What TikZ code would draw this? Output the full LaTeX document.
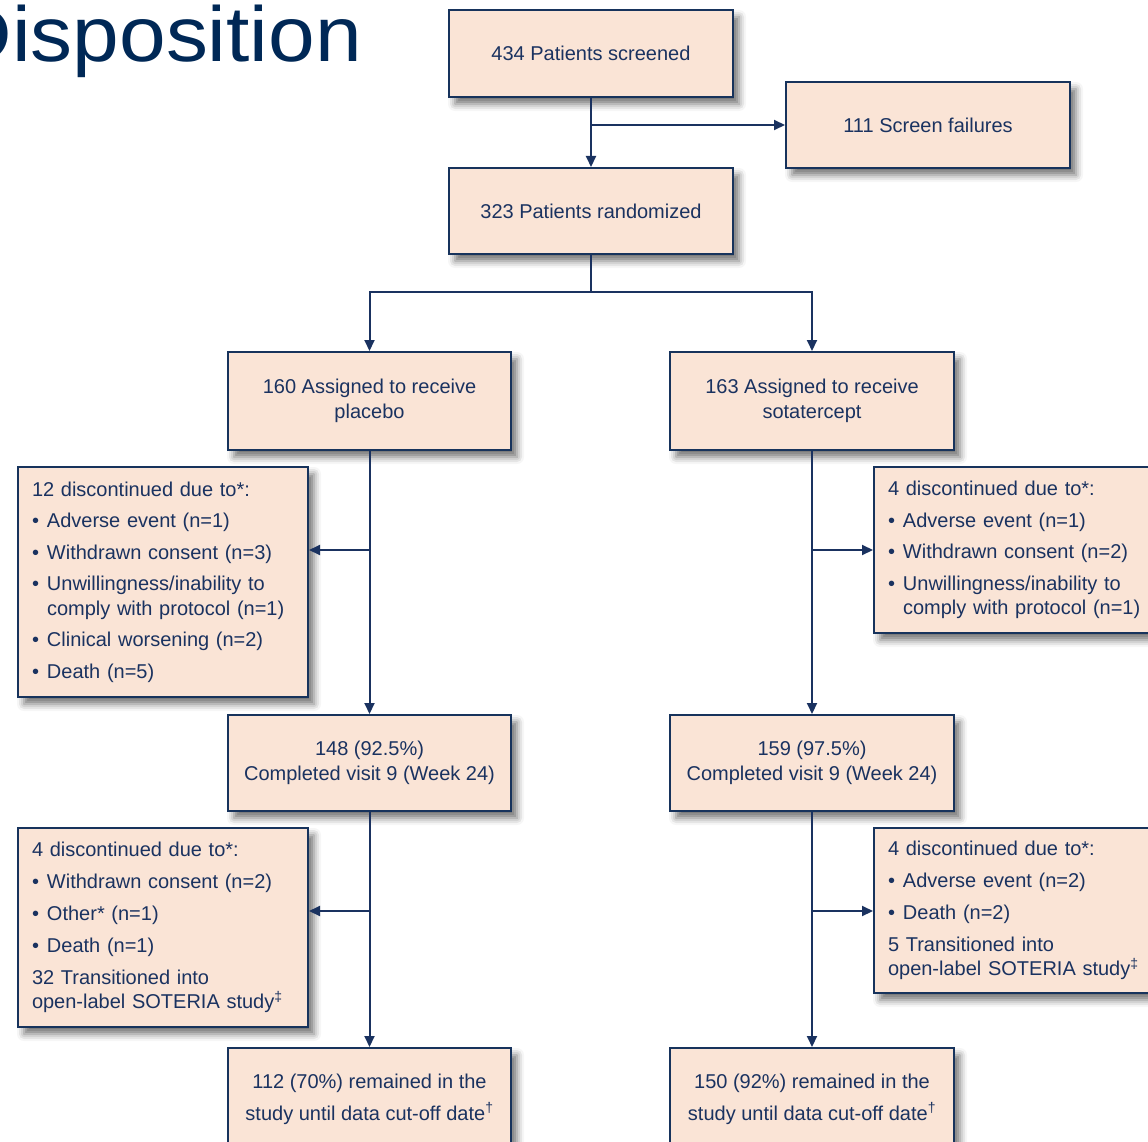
\documentclass[tikz,border=0pt]{standalone}
\usepackage{fontspec}
\setmainfont{Liberation Sans}
\usetikzlibrary{arrows.meta,shadows.blur}
\definecolor{navy}{HTML}{1A3260}
\definecolor{boxline}{HTML}{17335C}
\definecolor{peach}{HTML}{FAE4D6}
\definecolor{titlecol}{HTML}{002856}
\newcommand\bl{\makebox[15pt][l]{•}}
\newcommand\hng{\hspace*{15pt}}
\tikzset{
  box/.style={draw=boxline, line width=2pt, fill=peach, text=navy, align=center,
    inner sep=0pt, font=\fontsize{20}{24.5}\selectfont,
    blur shadow={shadow xshift=6pt, shadow yshift=-7pt, shadow blur radius=7pt, shadow opacity=55}},
  sidebox/.style={box, align=left, text width=262pt, minimum width=290pt},
  conn/.style={draw=navy, line width=2pt, -{Triangle[length=11pt,width=10pt]}},
  plain/.style={draw=navy, line width=2pt},
}
\begin{document}
\begin{tikzpicture}[x=1pt,y=-1pt]
\useasboundingbox (0,0) rectangle (1148,1142);
\clip (0,0) rectangle (1148,1142);
\node[anchor=base east, inner sep=0pt, text=titlecol, font=\fontsize{78}{80}\selectfont] (title) at (362,62) {\scalebox{1.075}[1]{Disposition}};

\node[box, minimum width=284pt, minimum height=87pt] (scr) at (591,53.5) {434 Patients screened};
\node[box, minimum width=284pt, minimum height=86pt] (fail) at (928,125) {111 Screen failures};
\node[box, minimum width=284pt, minimum height=86pt] (rand) at (591,211) {323 Patients randomized};
\node[box, minimum width=283pt, minimum height=98pt] (pla) at (369.5,401) {160 Assigned to receive\\placebo};
\node[box, minimum width=284pt, minimum height=98pt] (sot) at (812,401) {163 Assigned to receive\\sotatercept};

\node[sidebox, minimum height=230pt] (ld1) at (163,582) {12 discontinued due to*:\\[7pt]
\bl Adverse event (n=1)\\[7pt]
\bl Withdrawn consent (n=3)\\[7pt]
\bl Unwillingness/inability to\\
\hng comply with protocol (n=1)\\[7pt]
\bl Clinical worsening (n=2)\\[7pt]
\bl Death (n=5)};

\node[sidebox, minimum height=166pt] (rd1) at (1019,550) {4 discontinued due to*:\\[7pt]
\bl Adverse event (n=1)\\[7pt]
\bl Withdrawn consent (n=2)\\[7pt]
\bl Unwillingness/inability to\\
\hng comply with protocol (n=1)};

\node[box, minimum width=283pt, minimum height=96pt] (lc) at (369.5,763) {148 (92.5\%)\\Completed visit 9 (Week 24)};
\node[box, minimum width=284pt, minimum height=96pt] (rc) at (812,763) {159 (97.5\%)\\Completed visit 9 (Week 24)};

\node[sidebox, minimum height=199pt] (ld2) at (163,927.5) {4 discontinued due to*:\\[7.5pt]
\bl Withdrawn consent (n=2)\\[7.5pt]
\bl Other* (n=1)\\[7.5pt]
\bl Death (n=1)\\[7.5pt]
32 Transitioned into\\
open-label SOTERIA study\textsuperscript{‡}};

\node[sidebox, minimum height=165pt] (rd2) at (1019,910.5) {4 discontinued due to*:\\[7.5pt]
\bl Adverse event (n=2)\\[7.5pt]
\bl Death (n=2)\\[7.5pt]
5 Transitioned into\\
open-label SOTERIA study\textsuperscript{‡}};

\node[box, minimum width=283pt, minimum height=102pt] (lf) at (369.5,1099) {112 (70\%) remained in the\\[7.5pt]study until data cut-off date\textsuperscript{†}};
\node[box, minimum width=284pt, minimum height=102pt] (rf) at (812,1099) {150 (92\%) remained in the\\[7.5pt]study until data cut-off date\textsuperscript{†}};

% connectors
\draw[conn] (scr.south) -- (rand.north);
\coordinate (fb) at (591,125);
\draw[conn] (fb) -- (fail.west);
\coordinate (sp) at (591,292);
\draw[plain] (rand.south) -- (sp);
\draw[conn] (sp) -| (pla.north);
\draw[conn] (sp) -| (sot.north);

\draw[conn] (pla.south) -- (lc.north);
\coordinate (b1) at (369.5,550);
\draw[conn] (b1) -- (b1 -| ld1.east);
\draw[conn] (sot.south) -- (rc.north);
\coordinate (b2) at (812,550);
\draw[conn] (b2) -- (b2 -| rd1.west);

\draw[conn] (lc.south) -- (lf.north);
\coordinate (b3) at (369.5,911);
\draw[conn] (b3) -- (b3 -| ld2.east);
\draw[conn] (rc.south) -- (rf.north);
\coordinate (b4) at (812,911);
\draw[conn] (b4) -- (b4 -| rd2.west);
\end{tikzpicture}
\end{document}
